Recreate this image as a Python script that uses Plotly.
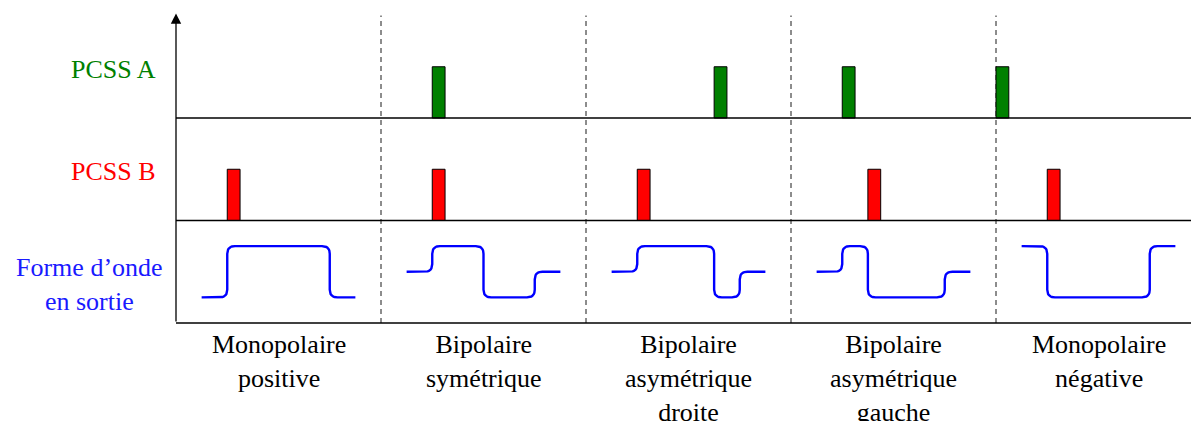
import numpy as np
import plotly.graph_objects as go

# ---------------- data ----------------
COLUMN_LABELS = [
    "Monopolaire<br>positive",
    "Bipolaire<br>symétrique",
    "Bipolaire<br>asymétrique<br>droite",
    "Bipolaire<br>asymétrique<br>gauche",
    "Monopolaire<br>négative",
]
COLUMN_CENTERS = [2, 6, 10, 14, 18]
COLUMN_BOUNDS = [4, 8, 12, 16]

PCSS_A_STARTS = [5.0, 10.5, 13.0, 16.0]
PCSS_B_STARTS = [1.0, 5.0, 9.0, 13.5, 17.0]
PULSE_WIDTH = 0.25
PULSE_HEIGHT = 1.0
ROW_A_BASE = 4.0
ROW_B_BASE = 2.0

WAVE_X = [
    [0.5, 1, 1, 3, 3, 3.5],
    [4.5, 5, 5, 6, 6, 7, 7, 7.5],
    [8.5, 9, 9, 10.5, 10.5, 11, 11, 11.5],
    [12.5, 13, 13, 13.5, 13.5, 15, 15, 15.5],
    [16.5, 17, 17, 19, 19, 19.5],
]
WAVE_Y = [
    [0.5, 0.5, 1.5, 1.5, 0.5, 0.5],
    [1, 1, 1.5, 1.5, 0.5, 0.5, 1, 1],
    [1, 1, 1.5, 1.5, 0.5, 0.5, 1, 1],
    [1, 1, 1.5, 1.5, 0.5, 0.5, 1, 1],
    [1.5, 1.5, 0.5, 0.5, 1.5, 1.5],
]

ROW_LABELS = ["PCSS A", "PCSS B", "Forme d’onde<br>en sortie"]
ROW_LABEL_COLORS = ["#008000", "#ff0000", "#1a1aff"]

# ---------------- geometry / style ----------------
W, H = 1191, 421
UNIT = 51.25
X0_PX, Y0_PX = 176, 323
X_RANGE = [-X0_PX / UNIT, (W - X0_PX) / UNIT]
Y_RANGE = [-(H - Y0_PX) / UNIT, Y0_PX / UNIT]
RADIUS = 0.15
FONT = "Liberation Serif"
FS = 26


def rounded(xs, ys, r=RADIUS, n=10):
    pts = np.column_stack([xs, ys]).astype(float)
    out = [pts[0]]
    for i in range(1, len(pts) - 1):
        p, a, b = pts[i], pts[i - 1], pts[i + 1]
        d1 = (p - a) / np.linalg.norm(p - a)
        d2 = (b - p) / np.linalg.norm(b - p)
        s, e = p - d1 * r, p + d2 * r
        for t in np.linspace(0, 1, n):
            out.append((1 - t) ** 2 * s + 2 * (1 - t) * t * p + t ** 2 * e)
    out.append(pts[-1])
    out = np.array(out)
    return out[:, 0], out[:, 1]


fig = go.Figure()

# pulses
fig.add_trace(go.Bar(
    x=[s + PULSE_WIDTH / 2 for s in PCSS_A_STARTS],
    y=[PULSE_HEIGHT] * len(PCSS_A_STARTS),
    base=[ROW_A_BASE] * len(PCSS_A_STARTS),
    width=[PULSE_WIDTH] * len(PCSS_A_STARTS),
    marker=dict(color="#008000", line=dict(color="black", width=1)),
    showlegend=False, hoverinfo="skip",
))
fig.add_trace(go.Bar(
    x=[s + PULSE_WIDTH / 2 for s in PCSS_B_STARTS],
    y=[PULSE_HEIGHT] * len(PCSS_B_STARTS),
    base=[ROW_B_BASE] * len(PCSS_B_STARTS),
    width=[PULSE_WIDTH] * len(PCSS_B_STARTS),
    marker=dict(color="#ff0000", line=dict(color="black", width=1)),
    showlegend=False, hoverinfo="skip",
))

# waveforms
for xs, ys in zip(WAVE_X, WAVE_Y):
    rx, ry = rounded(xs, ys)
    fig.add_trace(go.Scatter(
        x=rx, y=ry, mode="lines",
        line=dict(color="#0000ff", width=2.4),
        showlegend=False, hoverinfo="skip",
    ))

shapes = []
for xb in COLUMN_BOUNDS:
    shapes.append(dict(type="line", xref="x", yref="y", x0=xb, x1=xb, y0=0, y1=6,
                       line=dict(color="#1a1a1a", width=1, dash="5px,4px"), layer="below"))
for yb in [0, ROW_B_BASE, ROW_A_BASE]:
    shapes.append(dict(type="line", xref="x", yref="y", x0=0, x1=21, y0=yb, y1=yb,
                       line=dict(color="black", width=1.3)))

annotations = [
    dict(x=0, y=6.04, ax=0, ay=0, xref="x", yref="y", axref="x", ayref="y",
         text="", showarrow=True, arrowhead=2, arrowsize=1.6, arrowwidth=1.3,
         arrowcolor="black"),
]
for cx, lab in zip(COLUMN_CENTERS, COLUMN_LABELS):
    annotations.append(dict(x=cx, y=-0.1, xref="x", yref="y", text=lab,
                            showarrow=False, xanchor="center", yanchor="top",
                            align="center", font=dict(family=FONT, size=FS, color="black")))
row_pos = [(-0.36, 4.95), (-0.36, 2.95), (-0.22, 0.76)]
for (lx, ly), lab, col in zip(row_pos, ROW_LABELS, ROW_LABEL_COLORS):
    annotations.append(dict(x=lx, y=ly, xref="x", yref="y", text=lab,
                            showarrow=False, xanchor="right", yanchor="middle",
                            align="center", font=dict(family=FONT, size=FS, color=col)))

fig.update_layout(
    width=W, height=H,
    margin=dict(l=0, r=0, t=0, b=0),
    plot_bgcolor="white", paper_bgcolor="white",
    barmode="overlay",
    xaxis=dict(range=X_RANGE, visible=False, fixedrange=True),
    yaxis=dict(range=Y_RANGE, visible=False, fixedrange=True),
    shapes=shapes,
    annotations=annotations,
)

fig.write_html("out.html", config={"displayModeBar": False},
               post_script="document.body.style.margin='0px';document.body.style.overflow='hidden';")
